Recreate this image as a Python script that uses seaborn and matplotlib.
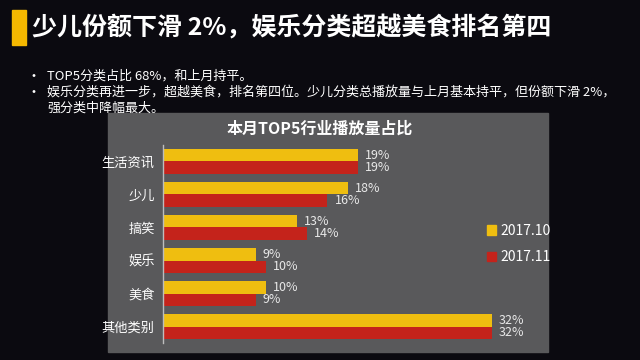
import matplotlib
matplotlib.use("Agg")
import matplotlib.pyplot as plt
from matplotlib.patches import Rectangle, Patch
import pandas as pd
import seaborn as sns

categories = ["生活资讯", "少儿", "搞笑", "娱乐", "美食", "其他类别"]
share_oct = [19, 18, 13, 9, 10, 32]
share_nov = [19, 16, 14, 10, 9, 32]
months = ["2017.10", "2017.11"]

title = "少儿份额下滑 2%，娱乐分类超越美食排名第四"
bullets = [
    "TOP5分类占比 68%，和上月持平。",
    "娱乐分类再进一步，超越美食，排名第四位。少儿分类总播放量与上月基本持平，但份额下滑 2%，\n强分类中降幅最大。",
]
chart_title = "本月TOP5行业播放量占比"

YELLOW = "#efbe10"
RED = "#c4231b"
PANEL = "#59595b"
BG = "#0b0a10"

sns.set_theme(style="white")
plt.rcParams["font.family"] = ["Noto Sans CJK SC", "DejaVu Sans"]

df = pd.DataFrame({
    "category": categories * 2,
    "share": share_oct + share_nov,
    "month": [months[0]] * len(categories) + [months[1]] * len(categories),
})

W, H = 640, 360
fig = plt.figure(figsize=(6.4, 3.6), dpi=100)
fig.patch.set_facecolor(BG)

# title bar
fig.patches.append(Rectangle((12 / W, 1 - 45 / H), 14 / W, 35 / H,
                             transform=fig.transFigure, color="#f5b800", zorder=1))
fig.text(32 / W, 1 - 28 / H, title, color="white", fontsize=18, fontweight="bold",
         va="center", ha="left")

# bullets
ys = [70, 86]
for y, txt in zip(ys, bullets):
    fig.text(26 / W, 1 - y / H, "•", color="white", fontsize=10, va="top", ha="left")
    fig.text(47 / W, 1 - y / H, txt, color="white", fontsize=9.4, va="top", ha="left",
             linespacing=1.3)

# gray panel
fig.patches.append(Rectangle((108 / W, 1 - 352 / H), 440 / W, 239 / H,
                             transform=fig.transFigure, color=PANEL, zorder=-1))
fig.text(320 / W, 1 - 129 / H, chart_title, color="white", fontsize=11.5,
         fontweight="bold", ha="center", va="center", zorder=4)

ax = fig.add_axes([163 / W, 1 - 343 / H, (540 - 163) / W, 198 / H])
ax.set_zorder(3)
ax.set_facecolor("none")
sns.barplot(data=df, y="category", x="share", hue="month", orient="h",
            palette=[YELLOW, RED], saturation=1, width=0.78, linewidth=0,
            ax=ax, legend=False)
ax.set_xlim(0, (540 - 163) / 10.28)
ax.set_ylim(5.5, -0.5)
for cont in ax.containers:
    ax.bar_label(cont, fmt="%d%%", padding=5, color="#e8e8e8", fontsize=9)

for s in ["top", "right", "bottom"]:
    ax.spines[s].set_visible(False)
ax.spines["left"].set_color("#bdbdbd")
ax.spines["left"].set_linewidth(1)
ax.set_xticks([])
ax.set_xlabel("")
ax.set_ylabel("")
ax.tick_params(axis="y", length=0, pad=6, labelcolor="white", labelsize=9.5)

handles = [Patch(color=YELLOW), Patch(color=RED)]
leg = fig.legend(handles, months, loc="center left", bbox_to_anchor=(474 / W, 1 - 244 / H),
                 frameon=False, labelcolor="white", fontsize=10, handlelength=0.7,
                 handleheight=0.7, handletextpad=0.3, labelspacing=0.9)
leg.set_zorder(4)

fig.savefig("out.png", dpi=100, facecolor=BG)
